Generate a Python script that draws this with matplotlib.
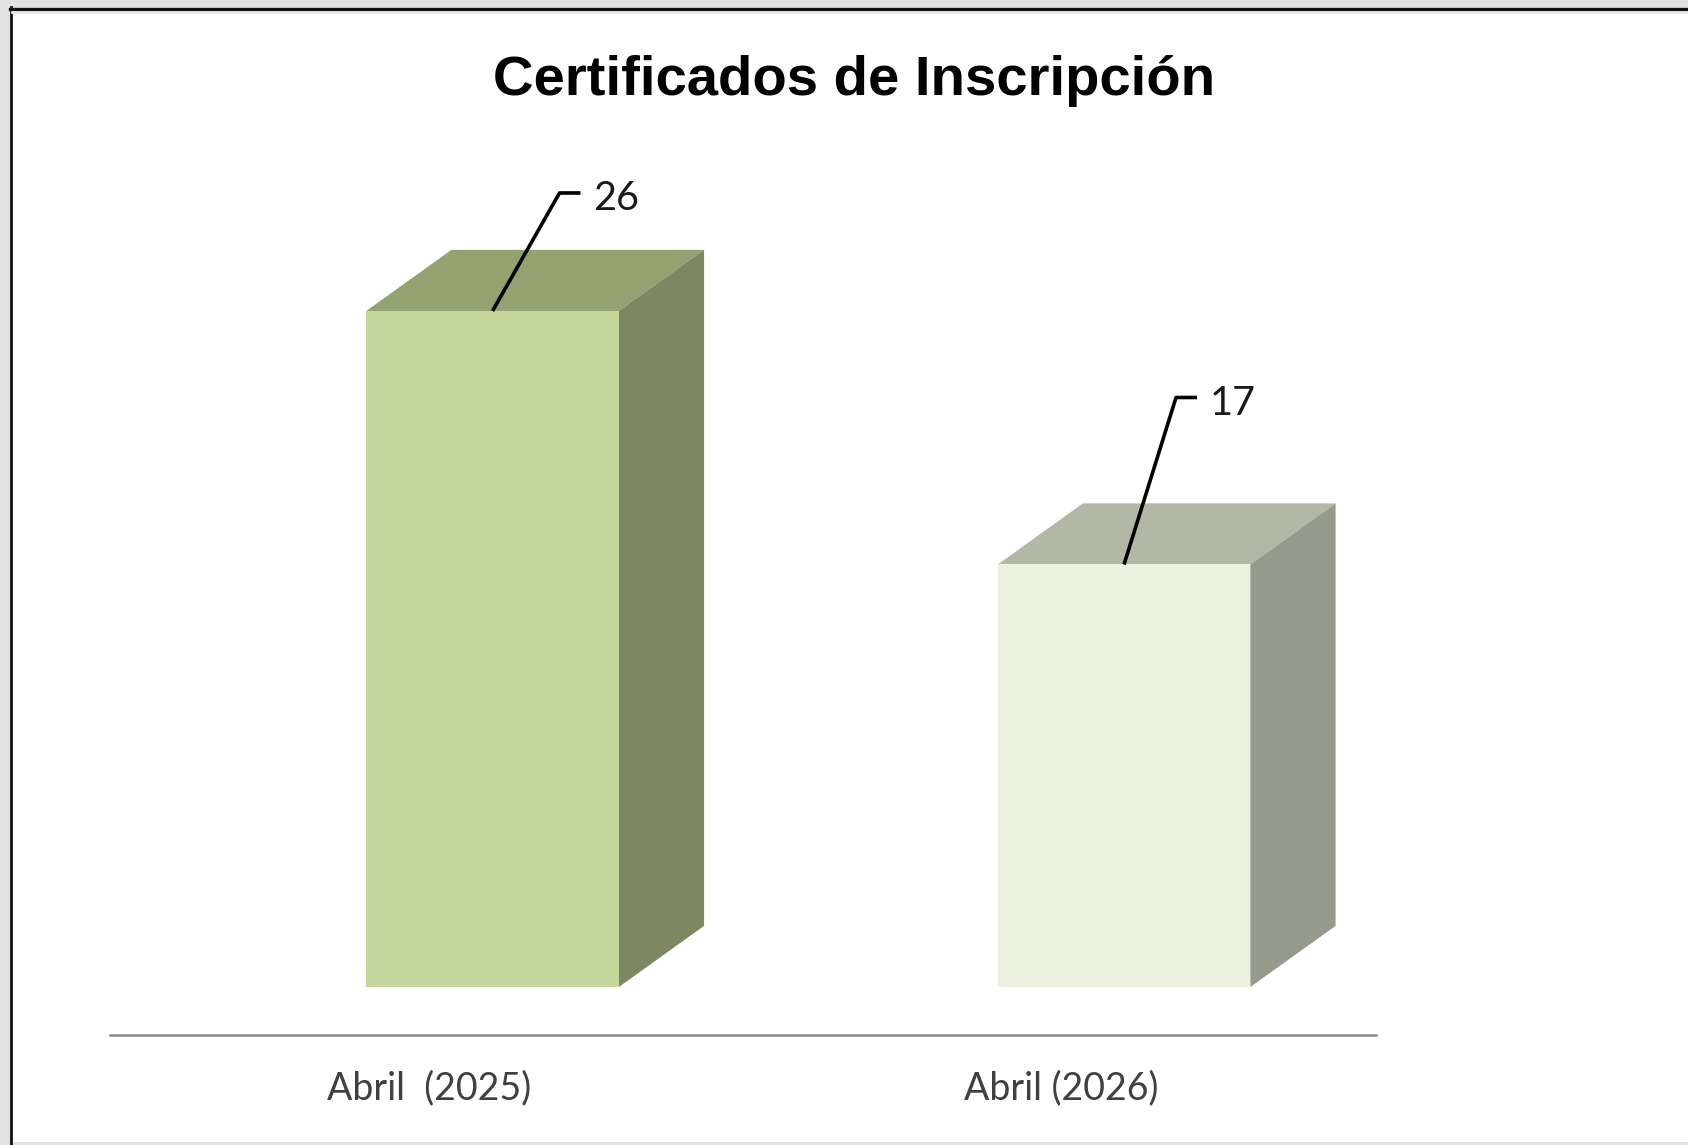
import matplotlib
matplotlib.use("Agg")
import matplotlib.pyplot as plt
import numpy as np
from matplotlib.patches import Polygon, Rectangle
from matplotlib.lines import Line2D

# data
categories = ["Abril  (2025)", "Abril (2026)"]
values = [26, 17]
title = "Certificados de Inscripción"

# styling
front_colors = ["#c3d69b", "#ebf1de"]
top_colors = ["#93a271", "#b3b8a6"]
side_colors = ["#7b8861", "#959a8c"]
BASE = 2.0            # floor of the 3D value axis
BAR_W = 0.40
DEPTH_X = 0.135       # depth of the 3D box, x units
DEPTH_Y = 2.17        # depth of the 3D box, y units
LABEL_SHIFT = 0.10    # category labels sit a bit left of the bars
# leader line elbows (pixels from the bar top centre)
leader_offsets = [(67, 118), (52, 167)]
LEADER_TAIL = 21

W, H = 1688, 1145
fig = plt.figure(figsize=(W / 100, H / 100), dpi=100, facecolor="#e1e1e1")

# white chart area with dark frame on top/left
fig.patches.append(Rectangle((12 / W, 3 / H), 1, 1 - 13 / H, transform=fig.transFigure,
                             facecolor="white", edgecolor="none", zorder=-2))
fig.lines.append(Line2D([10 / W, 1], [1 - 8.5 / H, 1 - 8.5 / H], transform=fig.transFigure,
                        color="#111111", lw=2.4, zorder=-1))
fig.lines.append(Line2D([11 / W, 11 / W], [0, 1 - 7 / H], transform=fig.transFigure,
                        color="#111111", lw=2.0, zorder=-1))
fig.lines.append(Line2D([12 / W, 1], [1 - 12 / H, 1 - 12 / H], transform=fig.transFigure,
                        color="#e6e6e6", lw=2.0, zorder=-1))

ax = fig.add_axes([110 / W, 110 / H, 1266 / W, 895 / H])
ax.set_zorder(1)
ax.set_facecolor("none")
ax.set_xlim(-0.6057, 1.399)
ax.set_ylim(0.296, 32.07)

x = np.arange(len(values))
heights = [v - BASE for v in values]
ax.bar(x, heights, BAR_W, bottom=BASE, color=front_colors, edgecolor="none", zorder=3)

for xi, v, tc, sc in zip(x, values, top_colors, side_colors):
    l, r = xi - BAR_W / 2, xi + BAR_W / 2
    top = Polygon([(l, v), (r, v), (r + DEPTH_X, v + DEPTH_Y), (l + DEPTH_X, v + DEPTH_Y)],
                  closed=True, facecolor=tc, edgecolor="none", zorder=2)
    side = Polygon([(r, BASE), (r, v), (r + DEPTH_X, v + DEPTH_Y), (r + DEPTH_X, BASE + DEPTH_Y)],
                   closed=True, facecolor=sc, edgecolor="none", zorder=2)
    ax.add_patch(top)
    ax.add_patch(side)

# data labels with leader lines
to_fig = fig.transFigure.inverted()
for xi, v, (dx, dy) in zip(x, values, leader_offsets):
    p0 = ax.transData.transform((xi, v))
    p1 = p0 + np.array([dx, dy])
    p2 = p1 + np.array([LEADER_TAIL, 0])
    pts = to_fig.transform(np.array([p0, p1, p2]))
    fig.lines.append(Line2D(pts[:, 0], pts[:, 1], transform=fig.transFigure,
                            color="black", lw=2.6, solid_capstyle="butt", zorder=5))
    tx, ty = to_fig.transform(p2 + np.array([13, -6]))
    fig.text(tx, ty, str(v), fontsize=28.5, family="Lato", color="#1a1a1a",
             ha="left", va="center", zorder=5)

for s in ["top", "right", "left"]:
    ax.spines[s].set_visible(False)
ax.spines["bottom"].set_color("#8a8a8a")
ax.spines["bottom"].set_linewidth(1.8)
ax.set_yticks([])
ax.set_xticks(x - LABEL_SHIFT)
ax.set_xticklabels(categories, fontsize=27, family="Lato", color="#404040")
ax.tick_params(axis="x", length=0, pad=25.5)

fig.text(854 / W, 1 - 81 / H, title, fontsize=40.5, fontweight="bold",
         family="Liberation Sans", ha="center", va="center", color="black", zorder=5)

fig.savefig("out.png", dpi=100, facecolor=fig.get_facecolor())
